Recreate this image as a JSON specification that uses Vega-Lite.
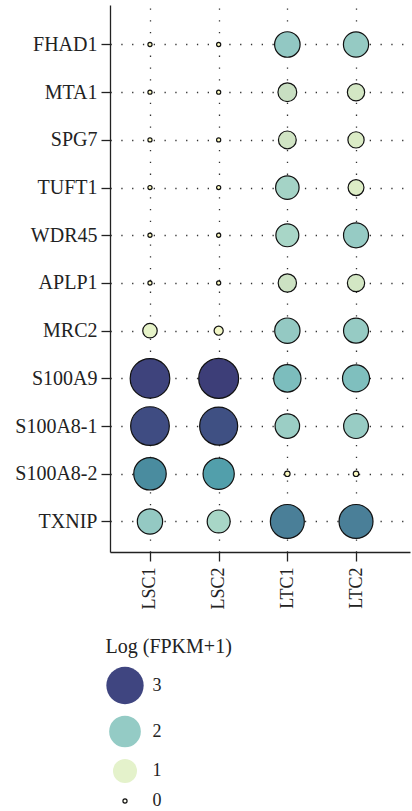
{
  "$schema": "https://vega.github.io/schema/vega-lite/v6.json",
  "width": 300,
  "height": 547,
  "autosize": "none",
  "padding": {"left": 110, "top": 5, "right": 2, "bottom": 259},
  "config": {
    "font": "Liberation Serif",
    "view": {"stroke": null},
    "axis": {
      "title": null,
      "domainColor": "#222",
      "domainWidth": 1.3,
      "tickColor": "#222",
      "tickWidth": 1.3,
      "tickSize": 9,
      "labelColor": "#222",
      "labelFont": "Liberation Serif",
      "grid": true,
      "gridColor": "#333",
      "gridWidth": 1.3,
      "gridDash": [1.3, 10]
    }
  },
  "data": {
    "values": [
      {"gene": "FHAD1", "sample": "LSC1", "v": 0},
      {"gene": "FHAD1", "sample": "LSC2", "v": 0},
      {"gene": "FHAD1", "sample": "LTC1", "v": 2.0},
      {"gene": "FHAD1", "sample": "LTC2", "v": 1.97},
      {"gene": "MTA1", "sample": "LSC1", "v": 0},
      {"gene": "MTA1", "sample": "LSC2", "v": 0},
      {"gene": "MTA1", "sample": "LTC1", "v": 1.4},
      {"gene": "MTA1", "sample": "LTC2", "v": 1.25},
      {"gene": "SPG7", "sample": "LSC1", "v": 0},
      {"gene": "SPG7", "sample": "LSC2", "v": 0},
      {"gene": "SPG7", "sample": "LTC1", "v": 1.3},
      {"gene": "SPG7", "sample": "LTC2", "v": 1.15},
      {"gene": "TUFT1", "sample": "LSC1", "v": 0},
      {"gene": "TUFT1", "sample": "LSC2", "v": 0},
      {"gene": "TUFT1", "sample": "LTC1", "v": 1.8},
      {"gene": "TUFT1", "sample": "LTC2", "v": 1.12},
      {"gene": "WDR45", "sample": "LSC1", "v": 0},
      {"gene": "WDR45", "sample": "LSC2", "v": 0},
      {"gene": "WDR45", "sample": "LTC1", "v": 1.75},
      {"gene": "WDR45", "sample": "LTC2", "v": 1.95},
      {"gene": "APLP1", "sample": "LSC1", "v": 0},
      {"gene": "APLP1", "sample": "LSC2", "v": 0},
      {"gene": "APLP1", "sample": "LTC1", "v": 1.35},
      {"gene": "APLP1", "sample": "LTC2", "v": 1.25},
      {"gene": "MRC2", "sample": "LSC1", "v": 1.0},
      {"gene": "MRC2", "sample": "LSC2", "v": 0.5},
      {"gene": "MRC2", "sample": "LTC1", "v": 1.98},
      {"gene": "MRC2", "sample": "LTC2", "v": 1.95},
      {"gene": "S100A9", "sample": "LSC1", "v": 3.05},
      {"gene": "S100A9", "sample": "LSC2", "v": 3.1},
      {"gene": "S100A9", "sample": "LTC1", "v": 2.12},
      {"gene": "S100A9", "sample": "LTC2", "v": 2.1},
      {"gene": "S100A8-1", "sample": "LSC1", "v": 2.95},
      {"gene": "S100A8-1", "sample": "LSC2", "v": 2.9},
      {"gene": "S100A8-1", "sample": "LTC1", "v": 1.9},
      {"gene": "S100A8-1", "sample": "LTC2", "v": 1.93},
      {"gene": "S100A8-2", "sample": "LSC1", "v": 2.5},
      {"gene": "S100A8-2", "sample": "LSC2", "v": 2.4},
      {"gene": "S100A8-2", "sample": "LTC1", "v": 0.1},
      {"gene": "S100A8-2", "sample": "LTC2", "v": 0.1},
      {"gene": "TXNIP", "sample": "LSC1", "v": 1.98},
      {"gene": "TXNIP", "sample": "LSC2", "v": 1.75},
      {"gene": "TXNIP", "sample": "LTC1", "v": 2.6},
      {"gene": "TXNIP", "sample": "LTC2", "v": 2.6}
    ]
  },
  "encoding": {
    "x": {
      "field": "sample",
      "type": "nominal",
      "scale": {"type": "point", "domain": ["LSC1", "LSC2", "LTC1", "LTC2"], "padding": 0.684, "align": 0.4255},
      "axis": {"labelAngle": -90, "labelFontSize": 18, "labelPadding": 6, "gridDash": [1.3, 10.5]}
    },
    "y": {
      "field": "gene",
      "type": "nominal",
      "scale": {"type": "point", "domain": ["FHAD1", "MTA1", "SPG7", "TUFT1", "WDR45", "APLP1", "MRC2", "S100A9", "S100A8-1", "S100A8-2", "TXNIP"], "padding": 0.734, "align": 0.564},
      "axis": {"labelFontSize": 20, "labelPadding": 4, "gridDash": [1.3, 9.5]}
    }
  },
  "layer": [
    {
      "mark": {"type": "point", "filled": true, "opacity": 1, "stroke": "#111", "strokeWidth": 1.2},
      "encoding": {
        "size": {
          "field": "v",
          "type": "quantitative",
          "scale": {"type": "linear", "domain": [0, 0.5, 1, 1.4, 2, 2.5, 3, 3.2], "range": [17, 83, 210, 353, 650, 1056, 1544, 1640]},
          "legend": null
        },
        "color": {
          "field": "v",
          "type": "quantitative",
          "scale": {
            "type": "linear",
            "interpolate": "rgb",
            "domain": [0, 0.5, 1, 1.4, 1.75, 2, 2.1, 2.4, 2.5, 2.6, 2.9, 3.0, 3.1],
            "range": ["#fefcc2", "#f2f7c6", "#e6f3c8", "#c8dfc2", "#a8d6c7", "#92c8c3", "#7fbfbe", "#529fab", "#4a8c9f", "#4a7f98", "#3f5083", "#3e4880", "#3d3e78"]
          },
          "legend": null
        }
      }
    },
    {
      "mark": {"type": "point", "filled": true, "opacity": 0},
      "encoding": {
        "size": {
          "field": "v",
          "type": "quantitative",
          "scale": {"type": "linear", "domain": [0, 1, 2, 3], "range": [17, 576, 1005, 1391]},
          "legend": {
            "title": "Log (FPKM+1)",
            "type": "symbol",
            "values": [3, 2, 1, 0],
            "format": "d",
            "orient": "none",
            "legendX": -4.5,
            "legendY": 632,
            "titleFontSize": 20,
            "titleFontWeight": "normal",
            "titleColor": "#222",
            "titlePadding": 9,
            "labelFontSize": 18,
            "labelColor": "#222",
            "labelOffset": 8,
            "rowPadding": 6,
            "symbolOpacity": 1,
            "symbolType": "circle",
            "symbolStrokeWidth": 1.2,
            "encode": {"symbols": {"update": {"stroke": {"signal": "datum.value === 0 ? '#111' : 'transparent'"}}}}
          }
        },
        "color": {
          "field": "v",
          "type": "quantitative",
          "scale": {"type": "linear", "interpolate": "rgb", "domain": [0, 1, 2, 3], "range": ["#fffff2", "#e4f2cb", "#94cbc5", "#3f4580"]},
          "legend": {
            "title": "Log (FPKM+1)",
            "type": "symbol",
            "values": [3, 2, 1, 0],
            "format": "d",
            "orient": "none",
            "legendX": -4.5,
            "legendY": 632,
            "titleFontSize": 20,
            "titleFontWeight": "normal",
            "titleColor": "#222",
            "titlePadding": 9,
            "labelFontSize": 18,
            "labelColor": "#222",
            "labelOffset": 8,
            "rowPadding": 6,
            "symbolOpacity": 1,
            "symbolType": "circle",
            "symbolStrokeWidth": 1.2,
            "encode": {"symbols": {"update": {"stroke": {"signal": "datum.value === 0 ? '#111' : 'transparent'"}}}}
          }
        }
      }
    }
  ],
  "resolve": {"scale": {"size": "independent", "color": "independent"}}
}
